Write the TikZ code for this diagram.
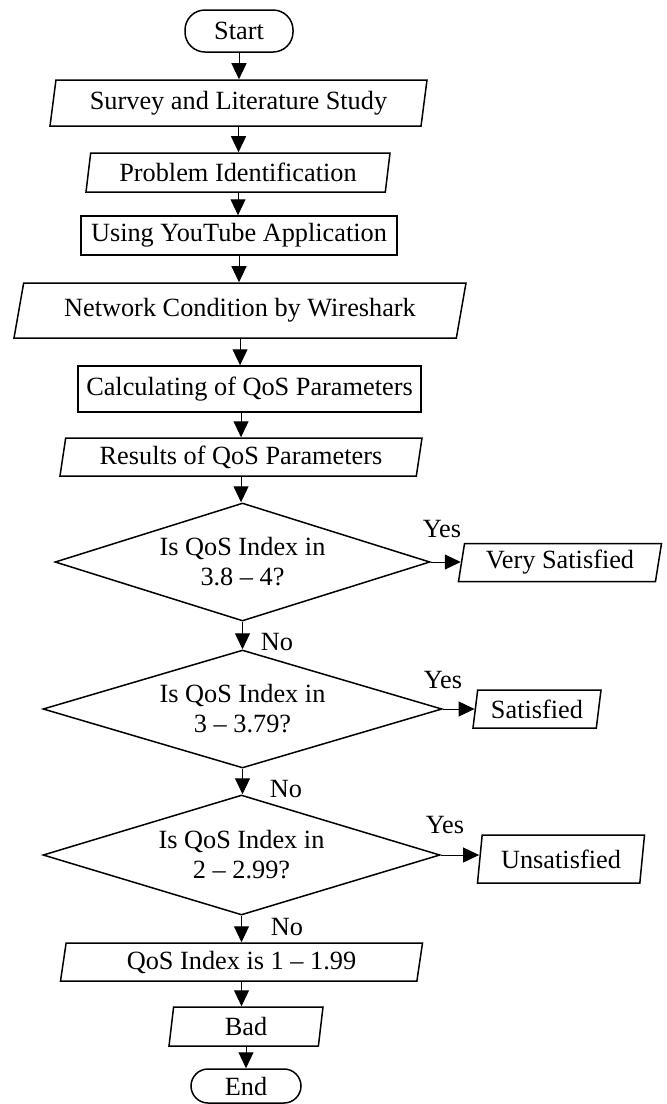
\documentclass[tikz,border=0pt]{standalone}
\usepackage{fontspec}
\setmainfont{Liberation Serif}
\usetikzlibrary{arrows.meta,shapes.geometric}

\begin{document}
\begin{tikzpicture}[
  x=0.5pt, y=-0.5pt,
  font=\fontsize{13.15}{15}\selectfont,
  >={Triangle[length=8pt,width=7.5pt]},
  term/.style={rectangle,draw,line width=.75pt,rounded corners=10pt,inner sep=0pt},
  proc/.style={rectangle,draw,line width=.75pt,inner sep=0pt},
  para/.style={trapezium,trapezium left angle=76,trapezium right angle=104,
               trapezium stretches body,draw,line width=.75pt,inner sep=0pt},
  decis/.style={diamond,shape aspect=3.2,draw,line width=.75pt,inner sep=0pt,align=center},
  arr/.style={->,line width=.5pt},
  lbl/.style={inner sep=0pt,anchor=base}
]
\useasboundingbox (0,0) rectangle (666,1104);
% main column
\node[term,minimum width=54pt,minimum height=21pt] (start) at (239,31) {Start};
\node[para,minimum width=188.5pt,minimum height=23pt] (survey) at (238.5,103) {Survey and Literature Study};
\node[para,minimum width=152pt,minimum height=19.5pt] (problem) at (238,172.5) {Problem Identification};
\node[proc,minimum width=158pt,minimum height=19.5pt] (youtube) at (239,235.5) {Using YouTube Application};
\node[para,trapezium left angle=68,trapezium right angle=112,
      minimum width=226pt,minimum height=27.5pt] (network) at (240,310.5) {Network Condition by Wireshark};
\node[proc,minimum width=171.5pt,minimum height=23pt] (calc) at (249.5,389) {Calculating of QoS Parameters};
\node[para,minimum width=181pt,minimum height=19pt] (results) at (241,457) {Results of QoS Parameters};
\node[decis,minimum width=187.5pt,minimum height=59pt] (dec1) at (242.5,562) {Is QoS Index in\\3.8 – 4?};
\node[decis,minimum width=199.5pt,minimum height=59pt] (dec2) at (242.5,709) {Is QoS Index in\\3 – 3.79?};
\node[decis,minimum width=198.5pt,minimum height=60pt] (dec3) at (241.5,855) {Is QoS Index in\\2 – 2.99?};
\node[para,minimum width=181pt,minimum height=19pt] (qos) at (241.5,962) {QoS Index is 1 – 1.99};
\node[para,minimum width=77pt,minimum height=19.5pt] (bad) at (246,1026.5) {Bad};
\node[term,rounded corners=8.5pt,minimum width=55pt,minimum height=17pt] (end) at (246,1086) {End};
% outcomes
\node[para,minimum width=101.5pt,minimum height=19pt] (vsat) at (560,562.5) {Very Satisfied};
\node[para,minimum width=64pt,minimum height=19pt] (sat) at (537,709) {Satisfied};
\node[para,minimum width=83.5pt,minimum height=24pt] (unsat) at (561,859) {Unsatisfied};
% flow
\foreach \a/\b in {start/survey,survey/problem,problem/youtube,youtube/network,network/calc}
  \draw[arr] (\a.south) -- (\a.south |- \b.north);
\draw[arr] (results.north |- calc.south) -- (results.north);
\foreach \a/\b in {results/dec1,dec1/dec2,dec2/dec3,dec3/qos,qos/bad,bad/end}
  \draw[arr] (\a.south) -- (\a.south |- \b.north);
\draw[arr] (dec1.east) -- (dec1.east -| vsat.west);
\draw[arr] (dec2.east) -- (dec2.east -| sat.west);
\draw[arr] (dec3.east) -- (dec3.east -| unsat.west);
% answers
\node[lbl] (yes1) at (442,537) {Yes};
\node[lbl] (yes2) at (443,688) {Yes};
\node[lbl] (yes3) at (445,833) {Yes};
\node[lbl] (no1) at (277,650) {No};
\node[lbl] (no2) at (286,797) {No};
\node[lbl] (no3) at (287,935) {No};
\end{tikzpicture}
\end{document}
